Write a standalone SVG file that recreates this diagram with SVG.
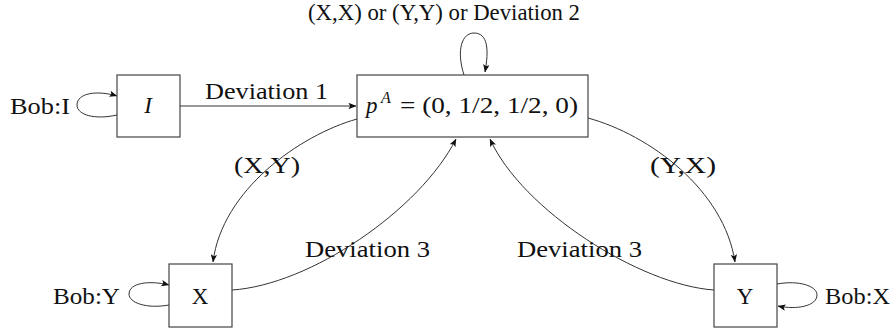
<svg xmlns="http://www.w3.org/2000/svg" width="896" height="332" viewBox="0 0 896 332">
<defs>
<marker id="ah" viewBox="0 0 10 8" refX="9.5" refY="4" markerWidth="8" markerHeight="6.4" orient="auto" markerUnits="userSpaceOnUse">
<path d="M0,0 L10,4 L0,8 L2.2,4 Z" fill="#111"/>
</marker>
<style>
.box{fill:#fff;stroke:#444;stroke-width:1.2}
.t{font-family:"Liberation Serif","Times New Roman",serif;font-size:23px;fill:#111}
.e{fill:none;stroke:#333;stroke-width:1;marker-end:url(#ah)}
</style>
</defs>
<rect width="896" height="332" fill="#fff"/>
<g id="connectors">
<path class="e" d="M180,106 L356,106"/>
<path class="e" d="M357,119 C300,135 222,190 213,262"/>
<path class="e" d="M232,290 C310,285 420,210 456,139"/>
<path class="e" d="M714,290 C640,285 522,210 490,139"/>
<path class="e" d="M588,118 C650,135 724,190 735,262"/>
<path class="e" d="M464,75 C456,50 462,33 474,33 C488,33 489,50 485,72"/>
<path class="e" d="M117,115 C95,120 77,115 77,105 C77,93 97,90 117,96"/>
<path class="e" d="M169,305 C147,309 129,303 129,294 C129,283 149,280 169,285"/>
<path class="e" d="M777,284 C799,280 817,286 817,295 C817,306 797,310 778,306"/>
<text class="t" x="205" y="99" textLength="123" lengthAdjust="spacingAndGlyphs">Deviation 1</text>
<text class="t" x="308" y="20" textLength="272" lengthAdjust="spacingAndGlyphs">(X,X) or (Y,Y) or Deviation 2</text>
<text class="t" x="234" y="173" textLength="66" lengthAdjust="spacingAndGlyphs">(X,Y)</text>
<text class="t" x="650" y="173" textLength="66" lengthAdjust="spacingAndGlyphs">(Y,X)</text>
<text class="t" x="305" y="257" textLength="125" lengthAdjust="spacingAndGlyphs">Deviation 3</text>
<text class="t" x="517" y="257" textLength="125" lengthAdjust="spacingAndGlyphs">Deviation 3</text>
<text class="t" x="10" y="114" textLength="60" lengthAdjust="spacingAndGlyphs">Bob:I</text>
<text class="t" x="53" y="304" textLength="67" lengthAdjust="spacingAndGlyphs">Bob:Y</text>
<text class="t" x="825" y="304" textLength="65" lengthAdjust="spacingAndGlyphs">Bob:X</text>
</g>
<g id="nodeI">
<rect class="box" x="117" y="75" width="63" height="62"/>
<text class="t" x="148" y="113" text-anchor="middle" font-style="italic">I</text>
</g>
<g id="nodeP">
<rect class="box" x="357" y="75" width="231" height="62"/>
<text class="t" x="366" y="113"><tspan font-style="italic">p</tspan><tspan font-style="italic" font-size="16" x="381" dy="-10">A</tspan></text>
<text class="t" x="400" y="113" textLength="178" lengthAdjust="spacingAndGlyphs">= (0, 1/2, 1/2, 0)</text>
</g>
<g id="nodeX">
<rect class="box" x="169" y="264" width="63" height="63"/>
<text class="t" x="200" y="304" text-anchor="middle">X</text>
</g>
<g id="nodeY">
<rect class="box" x="714" y="264" width="63" height="63"/>
<text class="t" x="745" y="304" text-anchor="middle">Y</text>
</g>
</svg>
